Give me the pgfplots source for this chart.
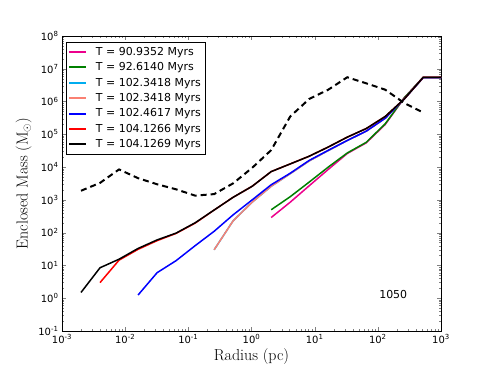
\documentclass[border=0pt]{standalone}
\usepackage{pgfplots}
\pgfplotsset{compat=1.18}
\usepackage{fontspec}
\newfontfamily\dv{DejaVu Sans}
\definecolor{salmonc}{RGB}{250,128,114}
\definecolor{greenc}{RGB}{0,128,0}
\begin{document}
\begin{tikzpicture}
\useasboundingbox (-62bp,-37bp) rectangle (429bp,331bp);
\begin{axis}[
 scale only axis, width=379bp, height=295bp,
 xmode=log, ymode=log,
 xmin=1e-3, xmax=1e3, ymin=1e-1, ymax=1e8,
 xtick={1e-3,1e-2,1e-1,1,1e1,1e2,1e3},
 xticklabels={10\textsuperscript{-3},10\textsuperscript{-2},10\textsuperscript{-1},10\textsuperscript{0},10\textsuperscript{1},10\textsuperscript{2},10\textsuperscript{3}},
 ytick={1e-1,1,1e1,1e2,1e3,1e4,1e5,1e6,1e7,1e8},
 yticklabels={10\textsuperscript{-1},10\textsuperscript{0},10\textsuperscript{1},10\textsuperscript{2},10\textsuperscript{3},10\textsuperscript{4},10\textsuperscript{5},10\textsuperscript{6},10\textsuperscript{7},10\textsuperscript{8}},
 tick label style={font=\dv\fontsize{10}{12}\selectfont},
 xlabel={Radius (pc)}, ylabel={Enclosed Mass (M$_\odot$)},
 label style={font=\fontsize{16}{18}\selectfont},
 xlabel style={yshift=2bp},
 legend style={at={(0.0106,0.98)}, anchor=north west, font=\dv\fontsize{11}{13}\selectfont, draw=black, row sep=1.8bp, inner xsep=2bp, inner ysep=3bp},
 legend image code/.code={\draw[#1, line width=2bp] (0bp,0bp) -- (17bp,0bp); \path (0bp,0bp) (24bp,0bp);},
 legend cell align=left,
 major tick length=4bp, minor tick length=2bp,
 no markers,
 every axis plot/.append style={line width=1.5bp},
]
\addplot[magenta] coordinates {(2.05,290) (4.1,850) (8.2,2700) (16.4,8500) (32.8,26000) (65.5,55000) (131,200000) (262,1.3e6) (524,5.5e6) (1000,5.5e6)};
\addlegendentry{T = 90.9352 Myrs}
\addplot[greenc] coordinates {(2.05,500) (4.1,1250) (8.2,3500) (16.4,10000) (32.8,27000) (65.5,57000) (131,210000) (262,1.3e6) (524,5.5e6) (1000,5.5e6)};
\addlegendentry{T = 92.6140 Myrs}
\addplot[cyan] coordinates {(0.256,30) (0.512,230) (1.024,850) (2.05,2600) (4.1,6300) (8.2,15500) (16.4,32000) (32.8,65000) (65.5,125000) (131,310000) (262,1.2e6) (524,5.4e6) (1000,5.4e6)};
\addlegendentry{T = 102.3418 Myrs}
\addplot[salmonc] coordinates {(0.256,30) (0.512,230) (1.024,850) (2.05,2600) (4.1,6300) (8.2,15500) (16.4,32000) (32.8,65000) (65.5,125000) (131,310000) (262,1.2e6) (524,5.4e6) (1000,5.4e6)};
\addlegendentry{T = 102.3418 Myrs}
\addplot[blue] coordinates {(0.016,1.25) (0.032,6) (0.064,14) (0.128,40) (0.256,110) (0.512,350) (1.024,1000) (2.05,2900) (4.1,6500) (8.2,16000) (16.4,32500) (32.8,65000) (65.5,125000) (131,310000) (262,1.2e6) (524,5.4e6) (1000,5.4e6)};
\addlegendentry{T = 102.4617 Myrs}
\addplot[red] coordinates {(0.004,3.0) (0.008,14.5) (0.016,31) (0.032,57) (0.064,95) (0.128,195) (0.256,490) (0.512,1200) (1.024,2600) (2.05,7300) (4.1,12500) (8.2,21500) (16.4,41000) (32.8,82000) (65.5,150000) (131,350000) (262,1.2e6) (524,5.5e6) (1000,5.5e6)};
\addlegendentry{T = 104.1266 Myrs}
\addplot[black] coordinates {(0.002,1.5) (0.004,8.5) (0.008,15.5) (0.016,33) (0.032,60) (0.064,97) (0.128,200) (0.256,490) (0.512,1200) (1.024,2600) (2.05,7300) (4.1,12500) (8.2,21500) (16.4,41000) (32.8,82000) (65.5,150000) (131,350000) (262,1.2e6) (524,5.5e6) (1000,5.5e6)};
\addlegendentry{T = 104.1269 Myrs}
\addplot[black, dash pattern=on 6bp off 4bp, line width=2bp, forget plot] coordinates {(0.002,1900) (0.004,3300) (0.008,8500) (0.016,4600) (0.032,3000) (0.064,2100) (0.128,1350) (0.256,1500) (0.512,3200) (1.024,9500) (2.05,33000) (4.1,350000) (8.2,1.2e6) (16.4,2.3e6) (32.8,5.5e6) (65.5,3.6e6) (131,2.3e6) (262,9e5) (524,4.6e5)};
\node[font=\dv\fontsize{11}{13}\selectfont] at (rel axis cs:0.874,0.125) {1050};
\end{axis}
\end{tikzpicture}
\end{document}
